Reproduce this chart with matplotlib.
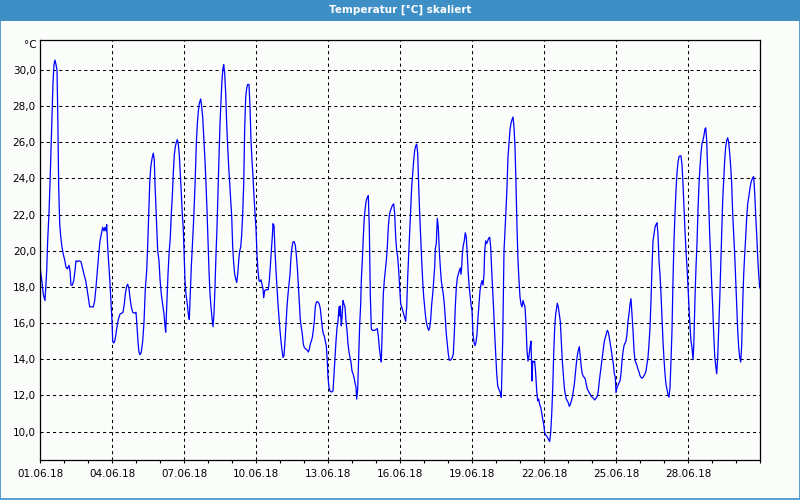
import matplotlib
matplotlib.use('Agg')

import numpy as np
import matplotlib.pyplot as plt
import matplotlib.dates as mdates
from matplotlib.patches import Rectangle
from matplotlib.ticker import FuncFormatter

# (hour since 01.06.18 00:00, temperature in degC)
seg1 = [(0, 19.1), (1.7, 18.4), (3.3, 17.6), (5, 17.25), (6.7, 18.9), (7.7, 20.6), (9, 22.1), (10, 23.7),
        (11, 25.6), (12, 27.4), (13, 29.3), (14, 30.3), (15, 30.55), (16, 30.3), (17, 30.0), (17.7, 27.8),
        (18.7, 23.5), (19.7, 21.5), (20.7, 20.8), (22, 20.2), (23.3, 19.8), (24.7, 19.5), (26, 19.1),
        (27.3, 19.0), (29, 19.2), (30, 18.9), (31, 18.1), (32.3, 18.1), (33.7, 18.35), (35, 18.9), (36, 19.45),
        (37.3, 19.4), (39, 19.45), (41, 19.4), (42.3, 19.1), (44, 18.7), (45.7, 18.35), (47, 17.9), (48.3, 17.4),
        (49.7, 16.9), (51.3, 16.9), (53.3, 16.9), (54.7, 17.25), (56, 18.0), (57.3, 18.9), (58.7, 19.8),
        (60, 20.55), (61.3, 20.9), (62.7, 21.3), (64, 21.1), (65, 21.3), (66, 21.1), (66.7, 21.45), (67.7, 20.2),
        (69, 19.1), (70, 18.2), (71, 17.1), (72, 16.1), (72.7, 15.0), (73.7, 14.9), (74.7, 15.0), (75.7, 15.3),
        (77, 15.8), (78.3, 16.2), (80, 16.5), (81.7, 16.55), (83, 16.6), (84.3, 17.05), (85.3, 17.6),
        (86.7, 18.05), (87.7, 18.15), (89, 17.9), (90, 17.4), (91.3, 16.9), (92.7, 16.6), (94.3, 16.55),
        (96, 16.6), (97, 15.85), (98, 14.95), (99, 14.4), (100, 14.25), (101.3, 14.4), (102.7, 15.0),
        (104, 16.05), (105.3, 17.9), (106.7, 18.9), (107.7, 20.3), (108.7, 22.05), (109.7, 23.7), (110.7, 24.6),
        (112, 25.1), (113.3, 25.4), (114.3, 25.0), (115, 23.7), (116.3, 21.9), (117.7, 20.0), (119, 19.45),
        (120, 18.45), (121.3, 17.6), (122.7, 17.05), (124, 16.5), (125, 15.85), (125.7, 15.5), (126.7, 16.9),
        (128, 18.7), (129, 19.8), (130.3, 20.75), (131.3, 22.05), (132.3, 23.0), (133.3, 24.3), (134.3, 25.3),
        (135.3, 25.75), (136.3, 26.0), (137.3, 26.15), (138.3, 25.9), (139.3, 25.3), (140.3, 24.3),
        (141.3, 23.2), (142.3, 22.05), (143.3, 21.2), (144, 20.0)]

seg2 = [(145, 18.35), (146, 17.6), (147.3, 17.05), (148.3, 16.5), (149.3, 16.2), (150.3, 17.6), (151.3, 19.1),
        (152.3, 20.2), (153.3, 21.3), (154.3, 22.6), (155.3, 24.1), (156.3, 25.9), (157.3, 27.0), (158.3, 27.7),
        (159.3, 28.15), (160.7, 28.4), (161.7, 27.95), (162.7, 27.4), (164, 26.1), (165, 25.0), (166, 23.7),
        (167, 22.25), (168, 20.6), (169, 18.9), (170, 17.6), (171, 16.9), (172, 16.3), (173, 15.8), (174, 16.5),
        (175, 18.0), (176, 19.8), (177, 21.3), (178, 23.35), (179, 25.2), (180, 27.0), (181, 28.3), (182, 29.45),
        (183, 30.1), (183.7, 30.3), (184.7, 29.8), (185.7, 28.7), (186.7, 27.0), (187.7, 25.75), (188.7, 24.65),
        (189.7, 23.7), (190.7, 22.8), (191.7, 21.9), (192.7, 20.2), (193.7, 19.3), (194.7, 18.7), (195.7, 18.45),
        (196.7, 18.25), (197.7, 18.7), (198.7, 19.45), (199.7, 20.0), (200.7, 20.2), (201.7, 20.9),
        (202.7, 22.05), (203.7, 23.7), (204.7, 26.8), (205.7, 28.5), (206.7, 29.0), (207.7, 29.2), (209, 29.2),
        (210, 27.95), (211, 26.1), (212, 25.0), (213, 24.1), (214, 23.0), (215, 22.05), (216, 21.2), (217, 19.8),
        (218, 18.9), (219, 18.35), (220, 18.3), (221, 18.4), (222, 18.15), (223, 17.9), (223.7, 17.4),
        (224.7, 17.8), (226, 17.85), (227.3, 17.85), (228.3, 17.85), (229.3, 18.35), (230.3, 19.1),
        (231.3, 20.0), (232.3, 20.75), (233, 21.5), (234, 21.4), (235, 20.0), (236, 18.9), (237, 17.95),
        (238, 17.05), (239, 16.3), (240, 15.6), (241, 15.0), (242, 14.5), (243, 14.1), (244, 14.2), (245, 15.0),
        (246, 15.95), (247, 16.9), (248, 17.6), (249, 18.15), (250, 18.7), (251, 19.65), (252, 20.2),
        (253, 20.5), (254.3, 20.5), (255.3, 20.3), (256.3, 19.8), (257.3, 19.1), (258.3, 18.1), (259.3, 17.05),
        (260.3, 16.2), (261.3, 15.75), (262.3, 15.4), (263.3, 14.85), (264.3, 14.65), (265.3, 14.6),
        (266.3, 14.55), (267.3, 14.5), (268.3, 14.4), (269.3, 14.55), (270.3, 14.85), (271.3, 15.0),
        (272.3, 15.2), (273.3, 15.6), (274.3, 16.1), (275.3, 16.9), (276.3, 17.15), (277.3, 17.2),
        (278.3, 17.15), (279.3, 17.05), (280.3, 16.8), (281.3, 16.3), (282.3, 15.75), (283.3, 15.4),
        (284.3, 15.3), (285.3, 15.0), (286.3, 14.75), (287.3, 13.9)]

seg3 = [(288, 13.0), (289, 12.45), (290, 12.25), (291, 12.2), (292, 12.2), (293, 12.25), (294, 13.2), (295, 14.1),
        (296, 15.0), (297, 15.75), (298, 16.1), (299, 16.9), (299.7, 16.4), (300.3, 16.95), (301.3, 15.85),
        (302, 16.3), (303, 17.25), (304, 17.05), (305, 16.9), (306, 16.1), (307, 15.6), (308, 14.85), (309, 14.4),
        (310, 14.1), (311, 13.85), (312, 13.35), (313, 13.2), (314, 13.0), (315, 12.7), (316, 12.45),
        (316.7, 11.8), (317.7, 12.35), (318.7, 14.1), (319.7, 15.95), (320.7, 17.05), (321.3, 18.35),
        (322.3, 19.45), (323.3, 20.75), (324.3, 21.85), (325.3, 22.4), (326.3, 22.8), (327.3, 22.95),
        (328.3, 23.05), (329.3, 21.3), (330.3, 17.6), (331.3, 15.7), (332.3, 15.6), (333.3, 15.6), (334.7, 15.6),
        (336, 15.65), (337.3, 15.7), (338.3, 15.3), (339.3, 14.65), (340.3, 14.2), (341.3, 13.85), (342.3, 15.75),
        (343.3, 17.6), (344.3, 18.35), (345.3, 18.9), (346.3, 19.45), (347.3, 20.2), (348.3, 21.3),
        (349.3, 21.95), (350.3, 22.2), (351.3, 22.35), (352.3, 22.5), (353.7, 22.6), (354.7, 22.05),
        (355.7, 20.75), (356.7, 20.0), (357.7, 19.65), (358.7, 18.9), (359.7, 17.95), (360.7, 17.05),
        (361.7, 16.9), (362.7, 16.7), (363.7, 16.5), (364.7, 16.3), (365.7, 16.1), (366.7, 16.9), (367.7, 18.55),
        (368.7, 19.8), (369.7, 21.1), (370.7, 22.4), (371.7, 23.55), (372.7, 24.3), (373.7, 25.0),
        (374.7, 25.55), (375.7, 25.8), (376.7, 25.9), (377.7, 25.4), (378.7, 23.55), (379.7, 22.05),
        (380.7, 20.75), (381.7, 19.45), (382.7, 18.35), (383.7, 17.45), (384.7, 16.9), (385.7, 16.3),
        (386.7, 15.95), (387.7, 15.75), (388.7, 15.6), (389.7, 15.75), (390.7, 16.2), (391.7, 17.05),
        (392.7, 17.6), (393.7, 18.35), (394.7, 19.1), (395.3, 20.1), (396.3, 20.4), (397.3, 21.8), (398.3, 21.3),
        (399.3, 20.0), (400.3, 19.1), (401.3, 18.35), (402.3, 17.95), (403.3, 17.6), (404.3, 17.05),
        (405.3, 16.3), (406.3, 15.4), (407.3, 14.85), (408.3, 14.3), (409.3, 13.95), (410.3, 13.95),
        (411.3, 14.0), (412.3, 14.1), (413.3, 14.3), (414.3, 15.4), (415.3, 16.9), (416.3, 17.95), (417.3, 18.5),
        (418.3, 18.7), (419.3, 18.9), (420.3, 19.05), (421, 18.7), (421.7, 19.1), (422.3, 19.8), (423.3, 20.3),
        (424.3, 20.55), (425.3, 21.0), (426.3, 20.75), (427.3, 19.8), (428.3, 18.7), (429.3, 17.95),
        (430.3, 17.45), (431.3, 16.9)]

seg4 = [(432, 16.7), (433, 15.4), (434, 14.95), (435, 14.75), (436, 14.95), (437, 15.4), (438, 16.3), (439, 17.05),
        (440, 17.8), (441, 18.15), (442, 18.35), (443, 18.1), (444, 18.7), (444.7, 20.0), (445.7, 20.55),
        (446.7, 20.4), (447.7, 20.55), (448.7, 20.7), (449.7, 20.75), (450.7, 20.2), (451.7, 18.9),
        (452.7, 17.8), (453.7, 16.7), (454.7, 15.4), (455.7, 14.3), (456.7, 13.2), (457.7, 12.55),
        (458.7, 12.35), (459.7, 12.25), (460.7, 12.05), (461.3, 11.9), (462, 13.45), (462.7, 15.0),
        (463.3, 17.25), (464, 20.0), (465, 21.1), (466, 22.25), (467, 23.55), (468, 25.2), (469, 25.95),
        (470, 26.7), (471, 27.05), (472, 27.25), (473, 27.4), (474, 26.85), (475, 25.75), (476, 23.7),
        (477, 21.3), (478, 19.45), (479, 18.35), (480, 17.45), (481, 17.05), (482, 16.9), (483, 17.25),
        (484, 17.05), (485, 16.9), (486, 15.95), (487, 14.5), (488, 13.9), (489, 14.2), (490, 14.65), (491, 15.0),
        (492, 12.8), (492.7, 13.9), (493.7, 13.85), (494.7, 13.9), (495.7, 13.2), (496.7, 12.25), (497.7, 11.7),
        (498.7, 11.8), (499.7, 11.5), (500.7, 11.35), (501.7, 11.05), (502.7, 10.7), (503.7, 10.4),
        (504.7, 9.95), (505.7, 9.8), (506.7, 9.75), (507.7, 9.65), (508.7, 9.55), (509.7, 9.45), (510.7, 9.95),
        (511.7, 10.95), (512.7, 12.35), (513.7, 14.3), (514.7, 15.75), (515.7, 16.5), (516.7, 16.9),
        (517.3, 17.1), (518.3, 16.9), (519.3, 16.5), (520.3, 16.1), (521.3, 15.0), (522.3, 13.9), (523.3, 13.2),
        (524.3, 12.45), (525.3, 12.05), (526.3, 11.8), (527.3, 11.7), (528.3, 11.6), (529.3, 11.4),
        (530.3, 11.5), (531.3, 11.7), (532.3, 11.9), (533.3, 12.25), (534.3, 12.6), (535.3, 13.2),
        (536.3, 13.75), (537.3, 14.2), (538.3, 14.5), (539.3, 14.7), (540.3, 14.1), (541.3, 13.55),
        (542.3, 13.2), (543.3, 13.05), (544.3, 13.0), (545.3, 12.9), (546.3, 12.6), (547.3, 12.35),
        (548.3, 12.25), (549.3, 12.15), (550.3, 12.05), (551.3, 11.95), (552.3, 11.9), (553.3, 11.85),
        (554.7, 11.75), (556, 11.85), (557.3, 11.95), (558.3, 12.25), (559.3, 12.8), (560.3, 13.25),
        (561.3, 13.65), (562.3, 14.1), (563.3, 14.55), (564.3, 15.0), (565.3, 15.2), (566.3, 15.4),
        (567.3, 15.6), (568.3, 15.5), (569.3, 15.2), (570.3, 14.85), (571.3, 14.5), (572.3, 14.1),
        (573.3, 13.75), (574.3, 13.2), (575.3, 13.0)]

seg5 = [(576, 12.15), (577, 12.45), (578, 12.55), (579, 12.7), (580, 12.8), (581, 13.2), (582, 13.9), (583, 14.4),
        (584, 14.75), (585, 14.9), (586, 15.0), (587, 15.4), (588, 16.1), (589, 16.5), (590, 17.05), (591, 17.35),
        (592, 16.5), (593, 15.6), (594, 14.5), (595, 13.95), (596, 13.8), (597, 13.65), (598, 13.45), (599, 13.3),
        (600, 13.1), (601, 13.0), (602, 12.95), (603, 13.0), (604, 13.1), (605, 13.2), (606, 13.35), (607, 13.75),
        (608, 14.1), (609, 14.85), (610, 15.75), (611, 17.25), (612, 19.1), (613, 20.55), (614, 20.9),
        (615, 21.3), (616, 21.45), (617, 21.55), (618, 20.9), (619, 19.45), (620, 18.7), (621, 17.6), (622, 16.3),
        (623, 15.0), (624, 14.0), (625, 13.2), (626, 12.6), (627, 12.35), (628, 12.05), (629, 11.9), (630, 12.45),
        (631, 13.9), (632, 15.6), (633, 18.35), (634, 20.55), (635, 22.05), (636, 23.35), (637, 24.3),
        (638, 24.9), (639, 25.2), (640, 25.25), (641, 25.25), (642, 24.75), (643, 23.7), (644, 22.4), (645, 21.1),
        (646, 20.0), (647, 19.1), (648, 17.95), (649, 16.9), (650, 15.85), (651, 15.0), (652, 14.65), (653, 14.0),
        (653.7, 14.65), (654.3, 15.95), (655, 17.4), (656, 19.1), (657, 20.4), (658, 22.25), (659, 23.7),
        (660, 24.65), (661, 25.4), (662, 25.95), (663, 26.1), (664, 26.4), (665, 26.75), (665.7, 26.8),
        (666.7, 26.1), (667.7, 24.3), (668.7, 22.4), (669.7, 20.9), (670.7, 19.65), (671.7, 18.15),
        (672.7, 16.9), (673.7, 15.4), (674.7, 14.2), (675.7, 13.65), (676.7, 13.2), (677.7, 14.1), (678.7, 15.6),
        (679.7, 17.25), (680.7, 19.1), (681.7, 20.9), (682.7, 22.8), (683.7, 23.9), (684.7, 25.0),
        (685.7, 25.75), (686.7, 26.1), (687.7, 26.25), (688.7, 26.0), (689.7, 25.4), (690.7, 24.65),
        (691.7, 23.7), (692.7, 22.05), (693.7, 20.9), (694.7, 19.8), (695.7, 18.35), (696.7, 16.9),
        (697.7, 15.6), (698.7, 14.65), (699.7, 14.1), (700.7, 13.85), (701.7, 14.75), (702.7, 17.05),
        (703.7, 18.7), (704.7, 19.8), (705.7, 20.75), (706.7, 21.85), (707.7, 22.6), (708.7, 22.95),
        (709.7, 23.35), (710.7, 23.7), (711.7, 23.9), (712.7, 24.05), (713.7, 24.1), (714.7, 23.2),
        (715.7, 21.95), (716.7, 20.9), (717.7, 19.65), (718.7, 18.7), (719.7, 17.95)]

title = 'Temperatur [°C] skaliert'
y_ticks = [10, 12, 14, 16, 18, 20, 22, 24, 26, 28, 30]
label_days = [1, 4, 7, 10, 13, 16, 19, 22, 25, 28]

data = np.array(seg1 + seg2 + seg3 + seg4 + seg5)
start = np.datetime64('2018-06-01T00:00')
times = start + (data[:, 0] * 60).round().astype('timedelta64[m]')
temps = data[:, 1]

bg = '#fbfdfb'
frame_blue = '#3d8fc6'
plt.rcParams['font.family'] = 'DejaVu Sans'


def date_label(v, pos):
    d = mdates.num2date(v)
    # the end of the axis (01.07.18) carries no label
    if d.month != 6:
        return ''
    return d.strftime('%d.%m.%y')


fig = plt.figure(figsize=(8, 5), dpi=100, facecolor=bg)
ax = fig.add_axes([0.05, 0.08, 0.9, 0.84], facecolor=bg)

ax.plot(times, temps, color='#0000ff', lw=0.9)

ax.set_xlim(np.datetime64('2018-06-01'), np.datetime64('2018-07-01'))
ax.set_ylim(8.43, 31.66)

ax.xaxis.set_major_locator(mdates.DayLocator(bymonthday=label_days))
ax.xaxis.set_minor_locator(mdates.DayLocator())
ax.xaxis.set_major_formatter(FuncFormatter(date_label))
ax.set_yticks(y_ticks)
ax.yaxis.set_major_formatter(FuncFormatter(lambda v, p: f'{v:.1f}'.replace('.', ',')))

ax.tick_params(axis='x', which='both', length=2.5, width=0.8, color='black',
               labelsize=7.5, pad=4, direction='out')
ax.tick_params(axis='y', length=0, labelsize=7.5, pad=3)
for s in ax.spines.values():
    s.set_color('black')
    s.set_linewidth(0.9)

ax.grid(True, which='major', color='black', linestyle=(0, (3, 3)), lw=0.75)

fig.text(37 / 800, 1 - 45 / 500, '°C', ha='right', va='center', fontsize=7.5)

# title bar and window frame
fig.patches.append(Rectangle((0, 1 - 21 / 500), 1, 21 / 500, transform=fig.transFigure,
                             facecolor=frame_blue, edgecolor='none', zorder=0))
fig.patches.append(Rectangle((0.0006, 0.003), 0.9988, 0.99, transform=fig.transFigure,
                             facecolor='none', edgecolor=frame_blue, lw=1.2, zorder=1))
fig.text(0.5, 1 - 10 / 500, title, ha='center', va='center', color='white',
         fontsize=7.5, fontweight='bold')

fig.savefig('out.png', dpi=100, facecolor=bg)
